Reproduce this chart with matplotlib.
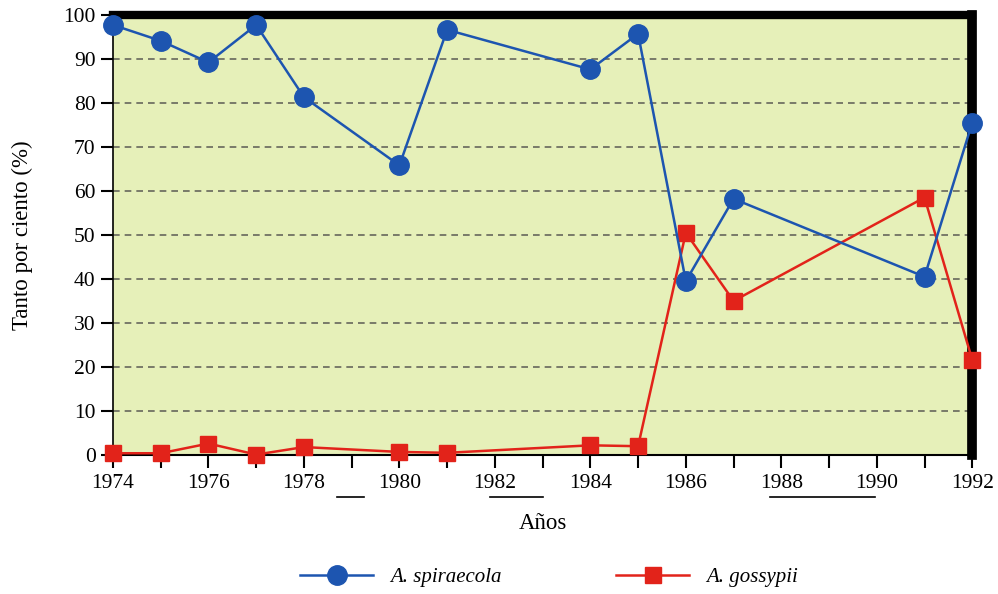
import numpy as np
import matplotlib
matplotlib.use("Agg")
import matplotlib.pyplot as plt

plt.rcParams['font.family'] = ['Liberation Serif', 'DejaVu Serif']

# data
years = [1974, 1975, 1976, 1977, 1978, 1980, 1981, 1984, 1985, 1986, 1987, 1991, 1992]
spiraecola = [97.7, 94.1, 89.2, 97.7, 81.3, 65.8, 96.6, 87.6, 95.7, 39.5, 58.2, 40.5, 75.5]
gossypii = [0.4, 0.4, 2.6, 0.1, 1.8, 0.7, 0.5, 2.2, 2.0, 50.5, 35.0, 58.5, 21.6]

yticks = list(range(0, 101, 10))
xlabels = list(range(1974, 1993, 2))

blue = '#1d55b0'
red = '#e2231a'

fig = plt.figure(figsize=(9.98, 5.94), dpi=100)
ax = fig.add_axes([0.1132, 0.234, 0.861, 0.741])
ax.set_facecolor('#e6f0b9')

ax.plot(years, spiraecola, color=blue, lw=1.8, marker='o', ms=14,
        label='A. spiraecola', clip_on=False, zorder=4)
ax.plot(years, gossypii, color=red, lw=1.8, marker='s', ms=12,
        label='A. gossypii', clip_on=False, zorder=3)

ax.set_xlim(1974, 1992)
ax.set_ylim(0, 100)
ax.set_yticks(yticks)
ax.set_xticks(xlabels)
ax.set_xticks(range(1975, 1992, 2), minor=True)
ax.tick_params(axis='both', which='both', direction='out', length=9, width=1.5,
               labelsize=15.5)
ax.tick_params(axis='x', which='major', pad=5)

for y in yticks[1:-1]:
    ax.axhline(y, color='#66665c', lw=1.2, ls=(0, (4, 3)), zorder=1)

ax.spines['top'].set_linewidth(6)
ax.spines['right'].set_linewidth(7)
ax.spines['left'].set_linewidth(1.2)
ax.spines['bottom'].set_linewidth(1.5)

ax.set_ylabel('Tanto por ciento (%)', fontsize=16.5, labelpad=22)
ax.set_xlabel('Años', fontsize=16.5, labelpad=14)

# stray underline marks under the year labels
trans = ax.get_xaxis_transform()
for x0, x1 in [(1978.7, 1979.26), (1981.9, 1983.0), (1987.77, 1989.97)]:
    ax.plot([x0, x1], [-0.095, -0.095], color='black', lw=1.2,
            transform=trans, clip_on=False)

leg = fig.legend(loc='center', bbox_to_anchor=(0.55, 0.028), ncol=2,
                 frameon=False, handlelength=3.5, columnspacing=5.5,
                 prop={'style': 'italic', 'size': 15})

fig.savefig('out.png', dpi=100)
